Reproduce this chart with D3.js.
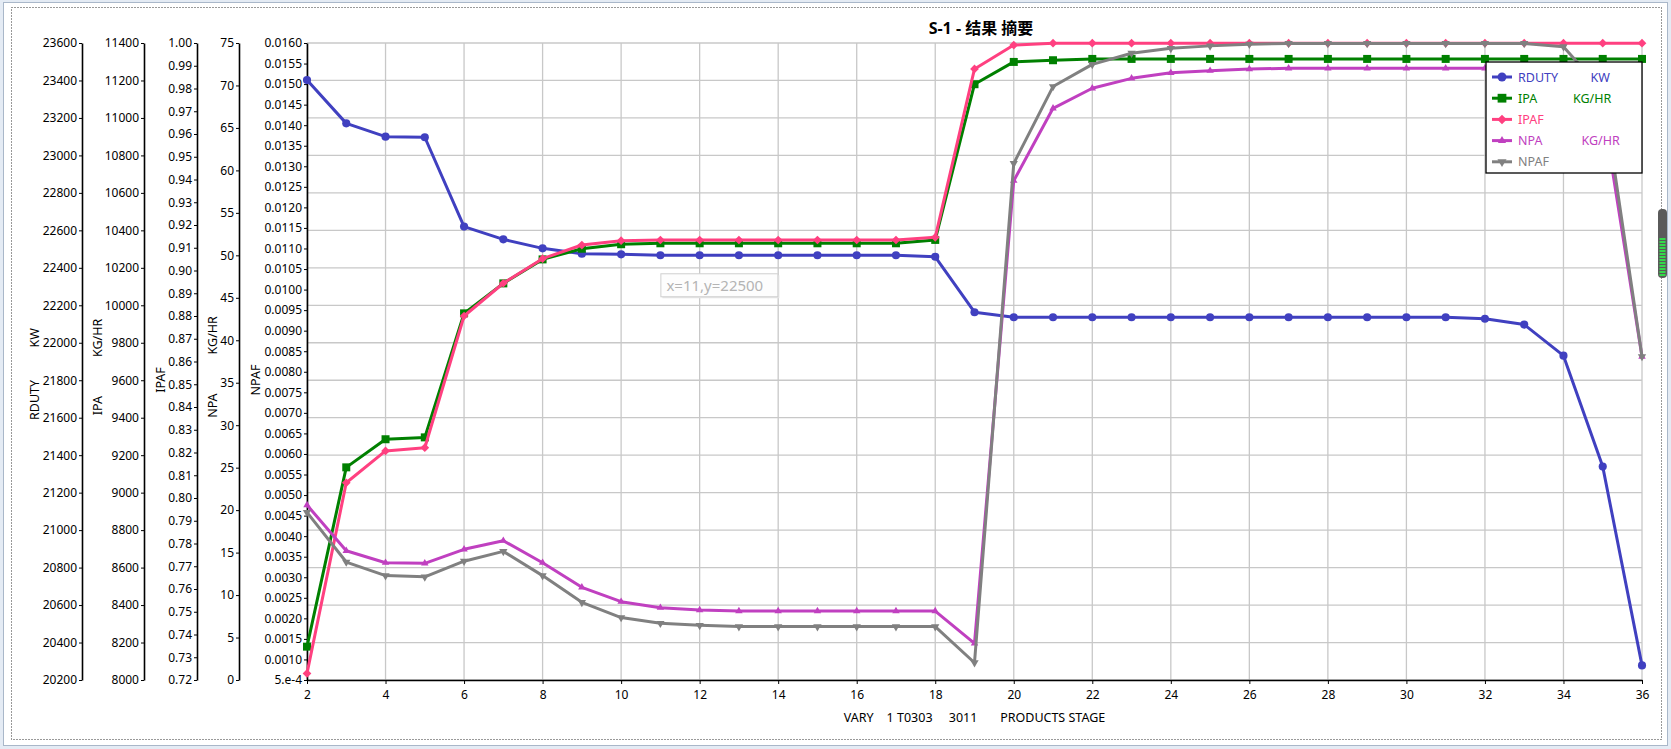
<!DOCTYPE html>
<html>
<head>
<meta charset="utf-8">
<script src="https://cdn.jsdelivr.net/npm/d3@7/dist/d3.min.js"></script>
<style>
body { margin: 0; background: #fff; }
svg text { font-family: "Noto Sans", "Noto Sans CJK SC", sans-serif; }
.pre { white-space: pre; }
</style>
</head>
<body>
<svg id="chart" width="1671" height="749"></svg>
<script>
// stage numbers on the x axis
var stages = [2, 3, 4, 5, 6, 7, 8, 9, 10, 11, 12, 13, 14, 15, 16, 17, 18, 19, 20, 21, 22, 23, 24, 25, 26, 27, 28, 29, 30, 31, 32, 33, 34, 35, 36];

var rduty = [23402, 23171, 23100, 23097, 22620, 22552, 22504, 22475, 22472, 22467, 22467, 22467, 22467, 22467, 22467, 22467, 22459, 22163,
  22136, 22136, 22136, 22136, 22136, 22136, 22136, 22136, 22136, 22136, 22136, 22136, 22128, 22097, 21931, 21339, 20278];
var ipa = [8178, 9135, 9285, 9295, 9957, 10117, 10245, 10302, 10326, 10331, 10331, 10331, 10331, 10331, 10331, 10331, 10349, 11180, 11299, 11308,
  11315, 11315, 11315, 11315, 11315, 11315, 11315, 11315, 11315, 11315, 11315, 11315, 11315, 11315, 11315];
var ipaf = [0.7229, 0.8067, 0.8207, 0.8221, 0.8800, 0.8944, 0.9052, 0.9112, 0.9131, 0.9134, 0.9134, 0.9134, 0.9134, 0.9134, 0.9134, 0.9134, 0.9146, 0.9886, 0.9991,
  0.9999, 0.9999, 0.9999, 0.9999, 0.9999, 0.9999, 0.9999, 0.9999, 0.9999, 0.9999, 0.9999, 0.9999, 0.9999, 0.9999, 0.9999, 0.9999];
var npa = [20.6, 15.22, 13.81, 13.74, 15.39, 16.4, 13.81, 10.91, 9.22, 8.51, 8.24, 8.12, 8.12, 8.12, 8.12, 8.12, 8.12, 4.32,
  58.79, 67.31, 69.67, 70.84, 71.5, 71.74, 71.94, 72.02, 72.02, 72.02, 72.02, 72.02, 72.02, 72.02, 72.02, 67.2, 38.07];
var npaf = [0.00458, 0.00337, 0.00304, 0.00301, 0.00339, 0.00363, 0.00304, 0.00239, 0.00202, 0.00188, 0.00183, 0.00180, 0.00180, 0.00180, 0.00180, 0.00180, 0.00180, 0.00092,
  0.01307, 0.01494, 0.01548, 0.01575, 0.01587, 0.01593, 0.01597, 0.01599, 0.01599, 0.01599, 0.01599, 0.01599, 0.01599, 0.01599, 0.01591, 0.01484, 0.00837];

var seriesNames = ["RDUTY", "IPA", "IPAF", "NPA", "NPAF"];
var legendLabels = ["RDUTY          KW", "IPA           KG/HR", "IPAF", "NPA            KG/HR", "NPAF"];
var axisTitles = ["RDUTY          KW", "IPA            KG/HR", "IPAF", "NPA            KG/HR", "NPAF"];
var axisDomains = [[20200, 23600], [8000, 11400], [0.72, 1.00], [0, 75], [0.0005, 0.016]];
var xTicks = [2, 4, 6, 8, 10, 12, 14, 16, 18, 20, 22, 24, 26, 28, 30, 32, 34, 36];
var chartTitle = "S-1 - 结果 摘要";
var xTitle = "VARY    1 T0303     3011       PRODUCTS STAGE";
var tipText = "x=11,y=22500";

var W = 1671, H = 749;
var m = { left: 307, right: 1642, top: 43, bottom: 680 };
var svg = d3.select("#chart");

// window frame
svg.append("rect").attr("width", W).attr("height", H).attr("fill", "#e4ebf4");
svg.append("rect").attr("x", 3.5).attr("y", 2.5).attr("width", W - 7).attr("height", H - 6)
  .attr("fill", "#fff").attr("stroke", "#a9b7c9");
svg.append("rect").attr("x", 11.5).attr("y", 7.5).attr("width", 1650).attr("height", 732)
  .attr("fill", "none").attr("stroke", "#333").attr("stroke-dasharray", "1,2");

var x = d3.scaleLinear().domain([2, 36]).range([m.left, m.right]);
var yScales = axisDomains.map(function(d) {
  return d3.scaleLinear().domain(d).range([m.bottom, m.top]);
});

var tickSets = [
  d3.range(20200, 23601, 200),
  d3.range(8000, 11401, 200),
  d3.range(72, 101).map(function(v) { return v / 100; }),
  d3.range(0, 76, 5),
  d3.range(1, 33).map(function(v) { return v * 0.0005; })
];
var tickFmts = [
  d3.format("d"), d3.format("d"), d3.format(".2f"), d3.format("d"),
  function(v) { return Math.abs(v - 0.0005) < 1e-9 ? "5.e-4" : d3.format(".4f")(v); }
];
var axisX = [82, 144, 197, 239, 307];
var titleX = [34, 97, 160, 212, 255];
var titleY = [374, 367, 380, 367, 380];

// grid
var grid = svg.append("g").attr("stroke", "#c8c8c8").attr("stroke-width", 1.3);
grid.selectAll("line.h").data(tickSets[0]).enter().append("line")
  .attr("x1", m.left).attr("x2", m.right)
  .attr("y1", function(d) { return yScales[0](d); }).attr("y2", function(d) { return yScales[0](d); });
grid.selectAll("line.v").data(xTicks).enter().append("line")
  .attr("y1", m.top).attr("y2", m.bottom)
  .attr("x1", function(d) { return x(d); }).attr("x2", function(d) { return x(d); });

// y axes
yScales.forEach(function(s, i) {
  var g = svg.append("g").attr("transform", "translate(" + axisX[i] + ",0)")
    .call(d3.axisLeft(s).tickValues(tickSets[i]).tickFormat(tickFmts[i]).tickSize(3).tickSizeOuter(0).tickPadding(2));
  g.select(".domain").attr("stroke-width", 1.6);
  g.selectAll("text").attr("font-size", 12).attr("fill", "#000").style("font-family", "Noto Sans");
  svg.append("text").attr("class", "pre")
    .attr("transform", "translate(" + titleX[i] + "," + titleY[i] + ") rotate(-90)")
    .attr("text-anchor", "middle").attr("dominant-baseline", "central")
    .attr("font-size", 12.5).text(axisTitles[i]);
});

// x axis
var gx = svg.append("g").attr("transform", "translate(0," + m.bottom + ")")
  .call(d3.axisBottom(x).tickValues(xTicks).tickSize(4).tickSizeOuter(0).tickPadding(6));
gx.select(".domain").attr("stroke-width", 1.6);
gx.selectAll("text").attr("font-size", 12).attr("fill", "#000");

svg.append("text").attr("class", "pre").attr("x", (m.left + m.right) / 2).attr("y", 722)
  .attr("text-anchor", "middle").attr("font-size", 12.5).text(xTitle);
svg.append("text").attr("x", 981).attr("y", 34).attr("text-anchor", "middle")
  .attr("font-size", 16).attr("font-weight", "bold").text(chartTitle);

// series
var values = [rduty, ipa, ipaf, npa, npaf];
var colors = ["#4040c0", "#008000", "#ff4080", "#c040c0", "#808080"];
var symbols = [
  { type: d3.symbolCircle, size: 52, rot: 0 },
  { type: d3.symbolSquare, size: 64, rot: 0 },
  { type: d3.symbolSquare, size: 38, rot: 45 },
  { type: d3.symbolTriangle, size: 24, rot: 0 },
  { type: d3.symbolTriangle, size: 30, rot: 180 }
];

values.forEach(function(vals, i) {
  var s = yScales[i];
  var line = d3.line().x(function(d, j) { return x(stages[j]); }).y(function(d) { return s(d); });
  var g = svg.append("g");
  g.append("path").datum(vals).attr("d", line).attr("fill", "none")
    .attr("stroke", colors[i]).attr("stroke-width", 3).attr("stroke-linejoin", "round");
  g.selectAll("path.pt").data(vals).enter().append("path")
    .attr("d", d3.symbol().type(symbols[i].type).size(symbols[i].size))
    .attr("transform", function(d, j) { return "translate(" + x(stages[j]) + "," + s(d) + ") rotate(" + symbols[i].rot + ")"; })
    .attr("fill", colors[i]);
});

// legend
var lg = svg.append("g");
lg.append("rect").attr("x", 1486).attr("y", 62).attr("width", 156).attr("height", 111)
  .attr("fill", "#fff").attr("stroke", "#000").attr("stroke-width", 1.3);
seriesNames.forEach(function(n, i) {
  var cy = 77 + i * 21.2;
  lg.append("line").attr("x1", 1492).attr("x2", 1512).attr("y1", cy).attr("y2", cy)
    .attr("stroke", colors[i]).attr("stroke-width", 3);
  lg.append("path").attr("d", d3.symbol().type(symbols[i].type).size(symbols[i].size * 1.2))
    .attr("transform", "translate(1502," + cy + ") rotate(" + symbols[i].rot + ")").attr("fill", colors[i]);
  lg.append("text").attr("class", "pre").attr("x", 1518).attr("y", cy).attr("dominant-baseline", "central")
    .attr("font-size", 12.5).attr("fill", colors[i]).text(legendLabels[i]);
});

// hover tooltip left on the picture
var tx = x(11), ty = yScales[0](22467) + 18;
svg.append("rect").attr("x", tx + 2).attr("y", ty + 2).attr("width", 117).attr("height", 23).attr("fill", "#e6e6e6");
svg.append("rect").attr("x", tx + 0.5).attr("y", ty + 0.5).attr("width", 117).attr("height", 23)
  .attr("fill", "#fdfdfd").attr("stroke", "#cfcfcf");
svg.append("text").attr("x", tx + 6).attr("y", ty + 12).attr("dominant-baseline", "central")
  .attr("font-size", 15).attr("fill", "#b4b4b4").text(tipText);

// scroll handle at the right edge
svg.append("rect").attr("x", 1658).attr("y", 209).attr("width", 9).attr("height", 69).attr("rx", 4).attr("fill", "#5a5a5a");
svg.selectAll("rect.stripe").data(d3.range(238, 275, 3)).enter().append("rect")
  .attr("x", 1659.5).attr("y", function(d) { return d; }).attr("width", 6).attr("height", 2).attr("fill", "#33d94a");
</script>
</body>
</html>
